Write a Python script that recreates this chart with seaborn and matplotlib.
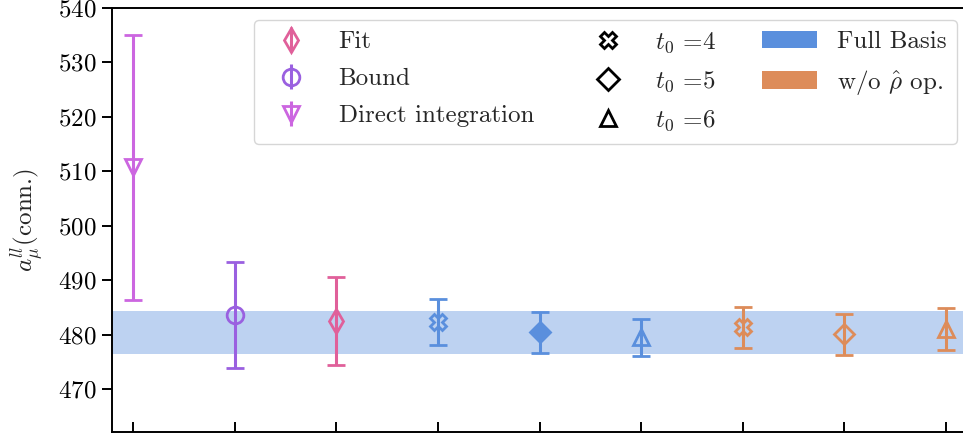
import matplotlib
matplotlib.use("Agg")
import matplotlib.pyplot as plt
from matplotlib.lines import Line2D
from matplotlib.patches import Patch
import seaborn as sns

# Determinations of the connected light-quark contribution
x_pos = [0, 1, 2, 3, 4, 5, 6, 7, 8]
values = [510.7, 483.6, 482.5, 482.3, 480.4, 479.5, 481.35, 480.05, 481.0]
errors = [24.4, 9.7, 8.1, 4.2, 3.75, 3.4, 3.75, 3.75, 3.8]
markers = ["v", "o", "d", "X", "D", "^", "X", "D", "^"]
filled = [False, False, False, False, True, False, False, False, False]

c_direct = "#cc66e0"
c_bound = "#9a60e0"
c_fit = "#e0609a"
c_full = "#5a8fdd"
c_norho = "#dd8c5a"
point_colors = [c_direct, c_bound, c_fit, c_full, c_full, c_full,
                c_norho, c_norho, c_norho]

# Final averaged band
band_lo, band_hi = 476.4, 484.3

method_labels = ["Fit", "Bound", "Direct integration"]
method_markers = ["d", "o", "v"]
method_colors = [c_fit, c_bound, c_direct]
t0_labels = [r"$t_0$ =4", r"$t_0$ =5", r"$t_0$ =6"]
t0_markers = ["X", "D", "^"]
basis_labels = ["Full Basis", r"w/o $\hat{\rho}$ op."]
basis_colors = [c_full, c_norho]

sns.set_theme(style="ticks")
plt.rcParams.update({
    "font.family": "serif",
    "font.serif": ["cmr10", "DejaVu Serif"],
    "mathtext.fontset": "cm",
    "axes.formatter.use_mathtext": True,
    "axes.unicode_minus": False,
    "axes.linewidth": 1.4,
    "axes.edgecolor": "black",
    "xtick.color": "black",
    "ytick.color": "black",
})

fig = plt.figure(figsize=(9.63, 4.33), dpi=100)
ax = fig.add_axes([112 / 963, 1 / 433, 855 / 963, 424 / 433])

ax.axhspan(band_lo, band_hi, color=c_full, alpha=0.4, lw=0, zorder=1)

for x, v, e, m, f, c in zip(x_pos, values, errors, markers, filled, point_colors):
    ms = 12 if m in ("o", "d", "v", "^") else (11 if m == "X" else 10)
    ax.errorbar(x, v, yerr=e, fmt=m, color=c, ecolor=c,
                markerfacecolor=c if f else "none", markeredgecolor=c,
                markersize=ms, markeredgewidth=2.0, elinewidth=2.2,
                capsize=6.5, capthick=2.2, zorder=3)

ax.set_xlim(-0.207, 8.207)
ax.set_ylim(462.1, 540)
ax.set_xticks(x_pos)
ax.set_xticklabels([])
ax.set_yticks([470, 480, 490, 500, 510, 520, 530, 540])
ax.tick_params(axis="x", direction="in", length=7, width=1.4)
ax.tick_params(axis="y", direction="out", length=7, width=1.4,
               labelsize=18, pad=4)
ax.set_ylabel(r"$a_\mu^{ll}$(conn.)", fontsize=18, labelpad=8)

# Legend: method (errorbar style), t0 (marker shape), basis (colour)
handles, labels = [], []
for lab, m, c in zip(method_labels, method_markers, method_colors):
    h = ax.errorbar([], [], yerr=[], fmt=m, color=c, markerfacecolor="none",
                    markeredgecolor=c, markersize=12, markeredgewidth=2.0,
                    elinewidth=2.2, capsize=6, capthick=2.2)
    handles.append(h)
    labels.append(lab)
for lab, m in zip(t0_labels, t0_markers):
    handles.append(Line2D([], [], ls="none", marker=m, color="black",
                          markerfacecolor="none", markeredgewidth=2.0,
                          markersize=11))
    labels.append(lab)
for lab, c in zip(basis_labels, basis_colors):
    handles.append(Patch(facecolor=c, edgecolor="none"))
    labels.append(lab)
handles.append(Line2D([], [], ls="none"))
labels.append("")

leg = ax.legend(handles, labels, ncol=3, fontsize=18, loc="upper right",
                bbox_to_anchor=(957 / 963, 1 - 20 / 433),
                bbox_transform=fig.transFigure, borderaxespad=0,
                handlelength=2.2, handletextpad=0.8, columnspacing=1.85,
                labelspacing=0.58, borderpad=0.4, frameon=True, fancybox=True,
                framealpha=0.8, edgecolor="#cccccc")

fig.savefig("out.png", dpi=100)
